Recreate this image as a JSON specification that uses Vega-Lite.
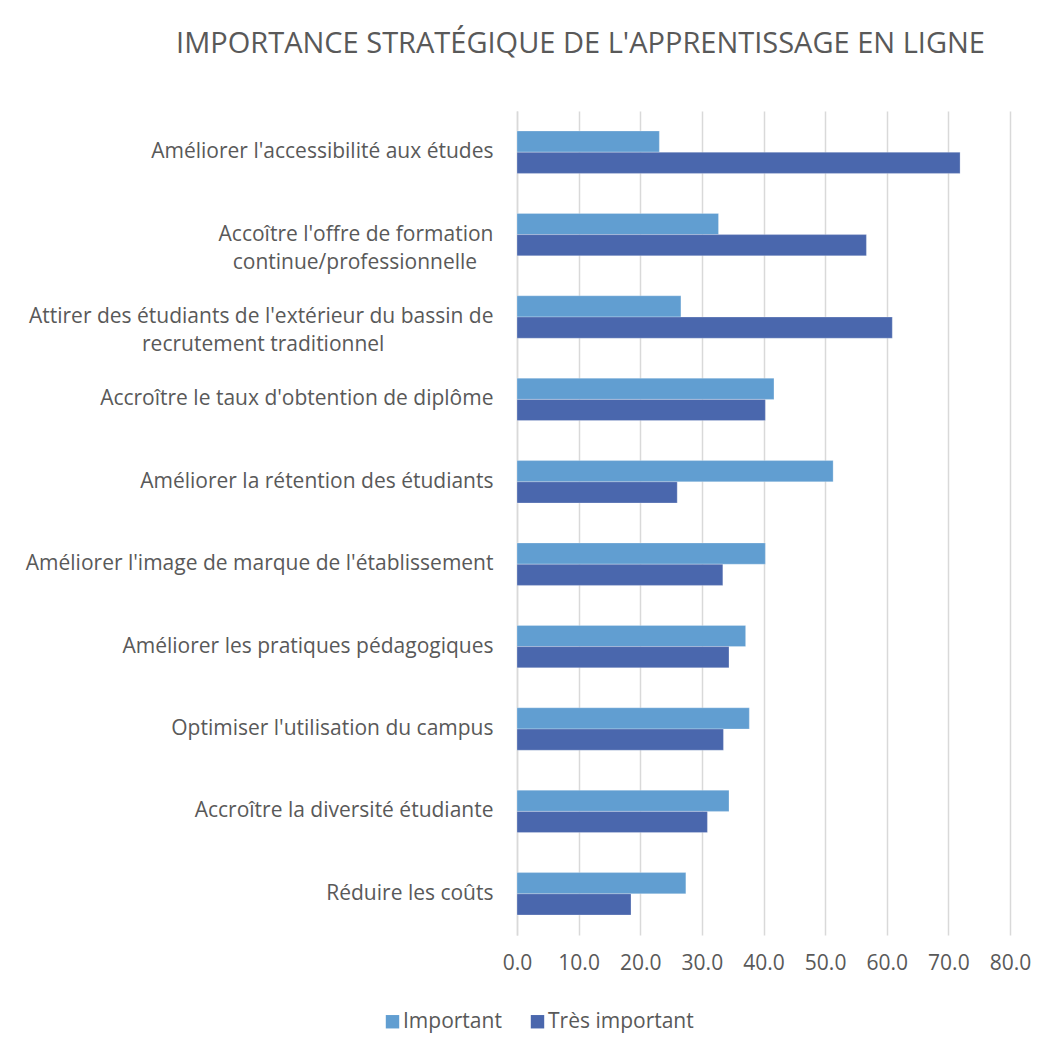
{
  "$schema": "https://vega.github.io/schema/vega-lite/v6.json",
  "autosize": {"type": "none"},
  "padding": {"left": 517, "top": 111, "right": 37, "bottom": 112},
  "width": 493,
  "height": 824,
  "background": "white",
  "config": {
    "font": "Open Sans",
    "view": {"stroke": null}
  },
  "title": {
    "text": "IMPORTANCE STRATÉGIQUE DE L'APPRENTISSAGE EN LIGNE",
    "font": "Open Sans",
    "fontSize": 29,
    "fontWeight": "normal",
    "color": "#595959",
    "anchor": "middle",
    "frame": "group",
    "dx": -183,
    "offset": 52,
    "limit": 1000
  },
  "data": {
    "values": [
      {"cat": "Améliorer l'accessibilité aux études", "serie": "Important", "val": 23.1},
      {"cat": "Améliorer l'accessibilité aux études", "serie": "Très important", "val": 71.9},
      {"cat": "Accoître l'offre de formation continue/professionnelle", "serie": "Important", "val": 32.7},
      {"cat": "Accoître l'offre de formation continue/professionnelle", "serie": "Très important", "val": 56.7},
      {"cat": "Attirer des étudiants de l'extérieur du bassin de recrutement traditionnel", "serie": "Important", "val": 26.6},
      {"cat": "Attirer des étudiants de l'extérieur du bassin de recrutement traditionnel", "serie": "Très important", "val": 60.9},
      {"cat": "Accroître le taux d'obtention de diplôme", "serie": "Important", "val": 41.7},
      {"cat": "Accroître le taux d'obtention de diplôme", "serie": "Très important", "val": 40.3},
      {"cat": "Améliorer la rétention des étudiants", "serie": "Important", "val": 51.3},
      {"cat": "Améliorer la rétention des étudiants", "serie": "Très important", "val": 26.0},
      {"cat": "Améliorer l'image de marque de l'établissement", "serie": "Important", "val": 40.3},
      {"cat": "Améliorer l'image de marque de l'établissement", "serie": "Très important", "val": 33.4},
      {"cat": "Améliorer les pratiques pédagogiques", "serie": "Important", "val": 37.1},
      {"cat": "Améliorer les pratiques pédagogiques", "serie": "Très important", "val": 34.4},
      {"cat": "Optimiser l'utilisation du campus", "serie": "Important", "val": 37.7},
      {"cat": "Optimiser l'utilisation du campus", "serie": "Très important", "val": 33.5},
      {"cat": "Accroître la diversité étudiante", "serie": "Important", "val": 34.4},
      {"cat": "Accroître la diversité étudiante", "serie": "Très important", "val": 30.9},
      {"cat": "Réduire les coûts", "serie": "Important", "val": 27.4},
      {"cat": "Réduire les coûts", "serie": "Très important", "val": 18.5}
    ]
  },
  "mark": {"type": "bar", "stroke": "#ffffff", "strokeWidth": 0.75, "strokeOpacity": 0.35},
  "encoding": {
    "y": {
      "field": "cat",
      "type": "nominal",
      "sort": null,
      "scale": {"paddingInner": 0.485, "paddingOuter": 0.2425},
      "axis": {
        "title": null,
        "ticks": false,
        "domain": true,
        "domainColor": "#d9d9d9",
        "domainWidth": 1.5,
        "grid": false,
        "labelFontSize": 21,
        "labelColor": "#595959",
        "labelPadding": 24,
        "labelLimit": 600,
        "labelLineHeight": 28,
        "labelExpr": "datum.value == \"Accoître l'offre de formation continue/professionnelle\" ? [\"Accoître l'offre de formation\", \"continue/professionnelle\u00a0\u00a0\u00a0\u200b\"] : datum.value == \"Attirer des étudiants de l'extérieur du bassin de recrutement traditionnel\" ? [\"Attirer des étudiants de l'extérieur du bassin de\", \"recrutement traditionnel\u00a0\u00a0\u00a0\u00a0\u00a0\u00a0\u00a0\u00a0\u00a0\u00a0\u00a0\u00a0\u00a0\u00a0\u00a0\u00a0\u00a0\u00a0\u00a0\u00a0\u200b\"] : datum.value"
      }
    },
    "yOffset": {
      "field": "serie",
      "type": "nominal",
      "sort": ["Important", "Très important"],
      "scale": {"paddingInner": 0, "paddingOuter": 0}
    },
    "x": {
      "field": "val",
      "type": "quantitative",
      "scale": {"domain": [0, 80], "nice": false},
      "axis": {
        "title": null,
        "values": [0, 10, 20, 30, 40, 50, 60, 70, 80],
        "format": ".1f",
        "domain": false,
        "ticks": false,
        "grid": true,
        "gridColor": "#d9d9d9",
        "gridWidth": 1.5,
        "labelFontSize": 21,
        "labelColor": "#595959",
        "labelPadding": 17,
        "labelFlush": false,
        "labelOverlap": false
      }
    },
    "color": {
      "field": "serie",
      "type": "nominal",
      "sort": ["Important", "Très important"],
      "scale": {"domain": ["Important", "Très important"], "range": ["#619ed1", "#4a67ad"]},
      "legend": {
        "title": null,
        "orient": "none",
        "direction": "horizontal",
        "legendX": -135,
        "legendY": 900,
        "symbolType": "square",
        "symbolSize": 180,
        "symbolStrokeWidth": 0,
        "labelFontSize": 21,
        "labelColor": "#595959",
        "labelOffset": 0,
        "columnPadding": 25
      }
    }
  }
}
